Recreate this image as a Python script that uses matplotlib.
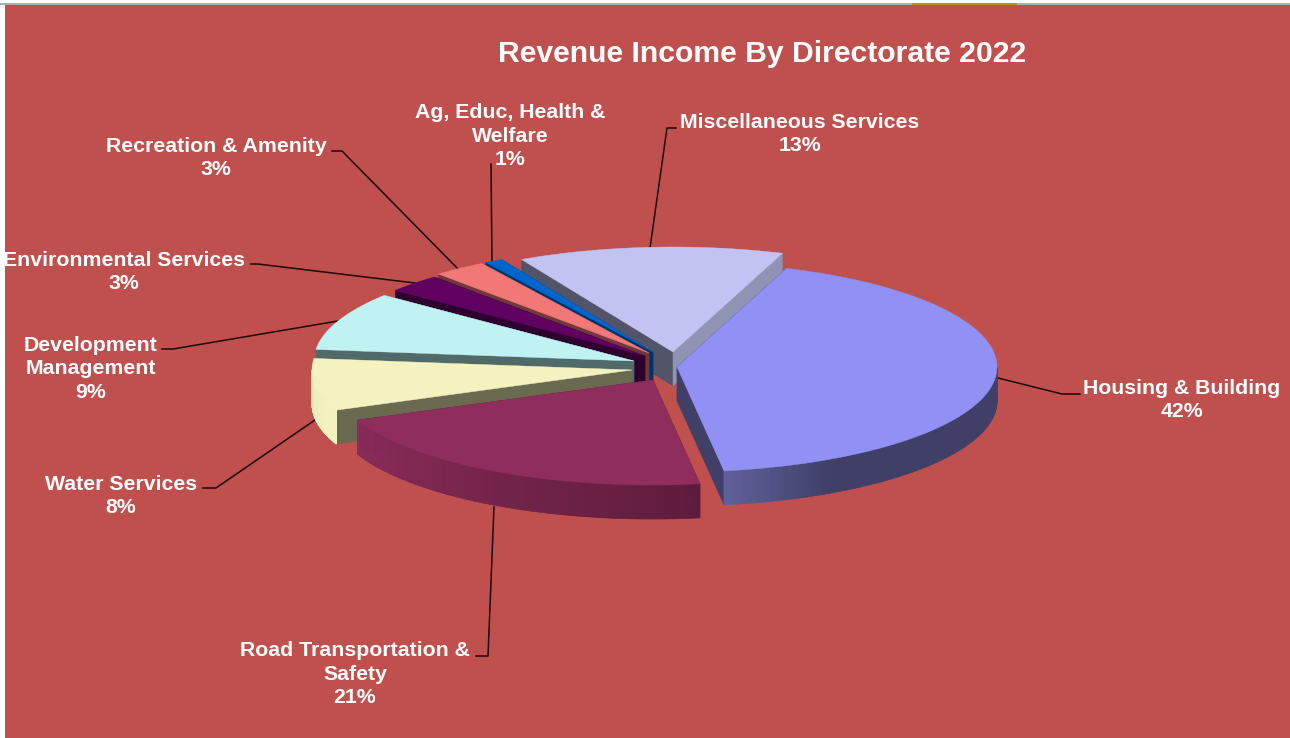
# -*- coding: utf-8 -*-
"""Revenue income pie, drawn by hand because matplotlib has no extruded pie."""
import numpy as np
import matplotlib
matplotlib.use("Agg")
import matplotlib.pyplot as plt
from matplotlib.colors import LinearSegmentedColormap
from matplotlib.patches import Polygon, Rectangle

plt.rcParams['font.family'] = ['Liberation Sans', 'DejaVu Sans']

# Data
TITLE = "Revenue Income By Directorate 2022"
CATEGORIES = ["Housing & Building", "Road Transportation &\nSafety", "Water Services",
              "Development\nManagement", "Environmental Services", "Recreation & Amenity",
              "Ag, Educ, Health &\nWelfare", "Miscellaneous Services"]
SHARES = [42.1, 21.1, 8.0, 9.0, 2.8, 2.7, 0.9, 13.4]

# Look of the pie, all in picture pixels
START_ANGLE = 20.0
RX, RY, DEPTH = 320, 105, 34
APEX = [(677, 367), (653, 380), (632, 370), (634, 361),
        (645, 356), (649, 353), (653, 352), (673, 352)]
TOP = ['#9090F5', '#8F2D5C', '#F3F2C0', '#BFF3F3', '#600060', '#F27878', '#0066CC', '#C2C2F3']
# cut face on the start edge and on the end edge of each slice
CUT_START = ['#3F3F68', '#5E1C3C', '#696A50', '#506A6A', '#2E002E', '#703838', '#003366', '#52546A']
CUT_END = ['#3F3F68', '#5E1C3C', '#696A50', '#506A6A', '#2E002E', '#703838', '#003366', '#9193B5']
# outer wall colours, from the start edge of the slice to its end
WALL = [[(0, '#3F3F68'), (0.87, '#3F3F68'), (1, '#5F6099')],
        ['#5E1C3C', '#8A2C5A'],
        ['#F3F2C0', '#F0EFBC', '#DFDFAE'],
        ['#506A6A', '#506A6A'],
        ['#2E002E', '#2E002E'],
        ['#703838', '#703838'],
        ['#003366', '#003366'],
        ['#52546A', '#52546A']]
LABEL_POS = [(1182, 400), (355, 674), (121, 496), (91, 369),
             (124, 272), (216, 158), (510, 136), (800, 134)]
LEADERS = [[(998, 378), (1062, 394), (1080, 394)],
           [(476, 656), (488, 656), (494, 507)],
           [(203, 488), (216, 488), (315, 420)],
           [(162, 349), (173, 349), (338, 321)],
           [(251, 264), (258, 264), (415, 283)],
           [(332, 151), (342, 151), (460, 271)],
           [(491, 164), (492, 263)],
           [(650, 248), (667, 128), (676, 128)]]
BG = '#C0504D'


def rim(apex, angles):
    """Points on the squashed rim, angles clockwise from 12 o'clock."""
    t = np.radians(angles)
    return np.column_stack([apex[0] + RX * np.sin(t), apex[1] - RY * np.cos(t)])


fig = plt.figure(figsize=(12.9, 7.38), dpi=100, facecolor='white')
ax = fig.add_axes([0, 0, 1, 1])
ax.set_xlim(0, 1290)
ax.set_ylim(738, 0)
ax.axis('off')

# Background, and the bits of the slide that show along the top
ax.add_patch(Rectangle((0, 3), 1290, 2, facecolor='#A9ADB5', edgecolor='none', zorder=0))
ax.add_patch(Rectangle((912, 3), 105, 2, facecolor='#C98A20', edgecolor='none', zorder=0))
ax.add_patch(Rectangle((5, 5), 1285, 733, facecolor=BG, edgecolor='none', zorder=0))

for pts in LEADERS:
    xs, ys = zip(*pts)
    ax.plot(xs, ys, color='#1A0A0A', lw=1.1, zorder=1)

# Painted back to front in this order: misc first, then round to housing last
edges = START_ANGLE + np.concatenate([[0], np.cumsum(SHARES)]) * 3.6
order = [7, 6, 5, 4, 3, 2, 1, 0]
z = 2
for i in order:
    a0, a1 = edges[i], edges[i + 1]
    apex = np.array(APEX[i], dtype=float)
    angles = np.linspace(a0, a1, 200)
    arc = rim(apex, angles)
    down = np.array([0, DEPTH])

    # the two cut faces
    for p, col in ((arc[0], CUT_START[i]), (arc[-1], CUT_END[i])):
        ax.add_patch(Polygon([apex, p, p + down, apex + down], facecolor=col,
                             edgecolor=col, lw=0.3, zorder=z))
    # outer wall as thin strips, gives the gradient; the back of the rim stays hidden
    cmap = LinearSegmentedColormap.from_list('wall%d' % i, WALL[i])
    for k in range(len(arc) - 1):
        if np.cos(np.radians(angles[k])) > 0:
            continue
        quad = [arc[k], arc[k + 1], arc[k + 1] + down, arc[k] + down]
        col = cmap(k / (len(arc) - 2))
        ax.add_patch(Polygon(quad, facecolor=col, edgecolor=col, lw=0.5, zorder=z))
    # top
    ax.add_patch(Polygon(np.vstack([apex, arc]), facecolor=TOP[i], edgecolor=TOP[i],
                         lw=0.3, zorder=z + 1))
    z += 2

ax.text(762, 54, TITLE, color='white', fontsize=21.7, fontweight='bold',
        ha='center', va='center', zorder=50)
for name, share, (x, y) in zip(CATEGORIES, SHARES, LABEL_POS):
    ax.text(x, y, f"{name}\n{round(share)}%", color='white', fontsize=15.3, fontweight='bold',
            ha='center', va='center', linespacing=1.29, zorder=50)

fig.savefig('out.png', dpi=100, facecolor='white')
